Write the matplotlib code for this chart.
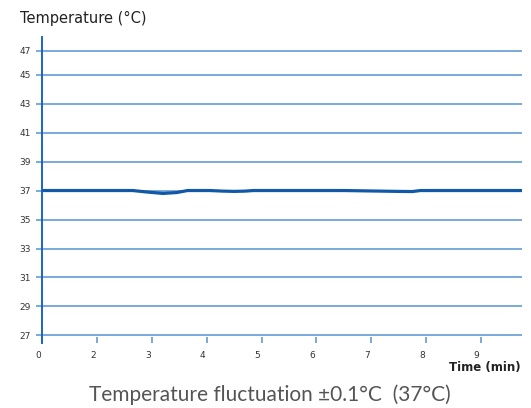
"""Incubator temperature trace over ten minutes, held at 37 C."""
import numpy as np, matplotlib
matplotlib.use("Agg")
import matplotlib.pyplot as plt
from matplotlib.transforms import ScaledTranslation

GRID, SPINE, LINE, TXT = "#6fa3d8", "#1a66c2", "#1158a8", "#333333"

# data
time_labels = ["0", "2", "3", "4", "5", "6", "7", "8", "9"]
y_ticks = [27, 29, 31, 33, 35, 37, 39, 41, 43, 45, 47]
t_pos = [0, 1, 1.65, 1.9, 2.2, 2.45, 2.65, 3.05, 3.3, 3.5, 3.7, 3.85,
         5.5, 6.0, 6.5, 6.75, 6.9, 8.75]
temp = [37, 37, 37, 36.9, 36.8, 36.86, 37, 37, 36.96, 36.94, 36.96, 37,
        37, 36.97, 36.94, 36.93, 37, 37]

# top interval (45-47) is drawn a bit shorter than the others
TOP_SQ = 0.83
def fwd(v):
    v = np.asarray(v, float)
    return np.where(v <= 45, (v - 27) / 2, 9 + (v - 45) / 2 * TOP_SQ)
def inv(p):
    p = np.asarray(p, float)
    return np.where(p <= 9, 27 + 2 * p, 45 + (p - 9) * 2 / TOP_SQ)

fig = plt.figure(figsize=(5.31, 4.08), dpi=100)
ax = fig.add_axes([0.0797, 0.160, 0.9033, 0.7486])
ax.set_yscale("function", functions=(fwd, inv))
ax.set_ylim(26.5, 48.1)
ax.set_xlim(0, 8.75)

for v in y_ticks:
    ax.axhline(v, color=GRID, lw=1.3, zorder=1)
ax.plot(t_pos, temp, color=LINE, lw=2.3, zorder=3, solid_capstyle="butt")

ax.set_yticks(y_ticks)
ax.set_yticklabels([str(v) for v in y_ticks])
ax.yaxis.set_minor_locator(matplotlib.ticker.NullLocator())
ax.set_xticks(range(len(time_labels)))
ax.set_xticklabels(time_labels)
ax.tick_params(axis="y", direction="out", length=4, width=1.3, color=GRID,
               labelsize=6.5, labelcolor=TXT, pad=4)
ax.tick_params(axis="x", direction="in", length=4.5, width=1.3, color=GRID,
               labelsize=6.5, labelcolor=TXT, pad=6)
off = ScaledTranslation(-3 / 72, 0, fig.dpi_scale_trans)
for lab in ax.get_xticklabels():
    lab.set_transform(lab.get_transform() + off)

for s in ("top", "right", "bottom"):
    ax.spines[s].set_visible(False)
ax.spines["left"].set_color(SPINE)
ax.spines["left"].set_linewidth(1.4)

fig.text(20 / 531, 1 - 18 / 408, "Temperature (°C)", fontsize=10.5, color="#222222",
         va="center", ha="left")
fig.text(521 / 531, 1 - 368 / 408, "Time (min)", fontsize=8.5, color="#222222",
         va="center", ha="right", fontweight="semibold")
fig.text(270 / 531, 1 - 395 / 408, "Temperature fluctuation ±0.1°C  (37°C)",
         fontsize=15, color="#555555", va="center", ha="center",
         family="Lato")

fig.savefig("out.png", dpi=100, facecolor="white")
